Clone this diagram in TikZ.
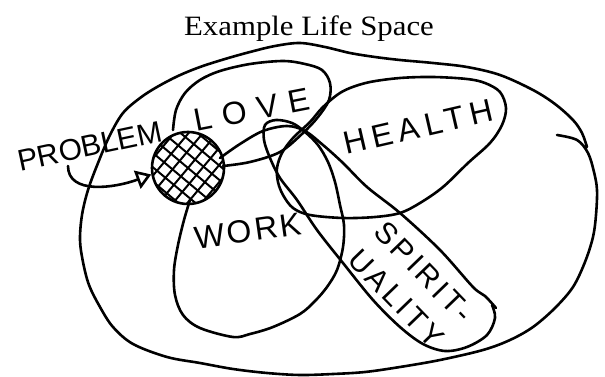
\documentclass[tikz,border=0pt]{standalone}
\usepackage{fontspec}
\setmainfont{Liberation Serif}
\newfontfamily\handfont{Liberation Sans}
\newfontfamily\titlefont[FakeStretch=1.1]{Liberation Serif}
\usetikzlibrary{arrows.meta}

\begin{document}
\begin{tikzpicture}[x=1pt, y=-1pt,
  sketch/.style={line width=2.6pt, line cap=round, line join=round},
  hand/.style={inner sep=0pt, align=center}]
  \useasboundingbox (0,0) rectangle (605,377);
  \node[font=\titlefont\fontsize{28}{30}\selectfont, anchor=base] (title) at (309,36) {Example Life Space};
  % life space boundary
  \draw[sketch] plot[smooth, tension=0.55] coordinates {(557,135) (577,140) (588,153) (594,172) (597,190) (596,215) (593,237) (585,262) (573,287) (555,308) (533,327) (510,340) (483,350) (440,360) (400,367) (365,372) (333,374) (300,375) (267,373) (233,369) (200,363) (167,357) (133,344) (113,327) (100,307) (89,285) (83,262) (80,240) (82,215) (88,190) (98,163) (110,135) (123,113) (140,98) (157,87) (178,76) (200,67) (225,59) (250,52) (275,46) (300,43) (325,47) (350,53) (375,57) (400,60) (433,63) (467,67) (500,75) (533,90) (555,104) (573,120) (582,133) (587,147)};
  % love
  \draw[sketch] plot[smooth, tension=0.55] coordinates {(173,130) (176,110) (185,93) (200,80) (220,71) (250,64) (283,61) (305,64) (322,70) (330,83) (329,100) (318,117) (303,133) (280,152) (250,162) (223,166)};
  % health
  \draw[sketch] plot[smooth cycle, tension=0.55] coordinates {(337,95) (322,108) (310,122) (293,138) (282,153) (277,168) (278,182) (283,195) (293,208) (310,215) (343,218) (375,217) (400,213) (420,203) (443,187) (468,163) (490,143) (502,125) (506,108) (500,92) (485,83) (467,79) (433,77) (400,78) (370,82) (350,88)};
  % work and spirituality
  \draw[sketch] plot[smooth, tension=0.55] coordinates {(190,200) (184,220) (178,245) (174,270) (175,295) (183,315) (200,328) (233,337) (250,334) (273,327) (300,314) (315,301) (327,287) (337,270) (343,247) (344,225) (340,205) (335,182) (328,162) (318,145) (305,132) (292,123) (276,120) (265,125) (264,140) (270,158) (280,178) (297,200) (317,230) (343,263) (373,300) (400,327) (423,344) (445,351) (467,347) (487,335) (495,318) (492,305)};
  \draw[sketch] plot[smooth, tension=0.55] coordinates {(496,308) (485,296) (473,287) (440,250) (400,213) (367,187) (343,163) (323,145) (305,131) (287,126) (263,131) (240,144) (220,158)};
  % problem spot
  \begin{scope}[shift={(188,168)}, rotate=50]
    \clip (0,0) circle (35pt);
    \foreach \d in {-33,-22,...,33} {
      \draw[sketch, line width=2pt] (\d,-40) -- (\d,40);
      \draw[sketch, line width=2pt] (-40,\d) -- (40,\d);
    }
  \end{scope}
  \node[draw, sketch, circle, minimum size=72pt, inner sep=0pt] (spot) at (188,168) {};
  % labels
  \node[hand, rotate=12, font=\handfont\fontsize{30}{32}\selectfont] (problem) at (90,146) {PROBLEM};
  \node[hand, rotate=11, font=\handfont\fontsize{32}{34}\selectfont\addfontfeatures{LetterSpace=33}] (love) at (252,110) {LOVE};
  \node[hand, rotate=13, font=\handfont\fontsize{32}{34}\selectfont\addfontfeatures{LetterSpace=18}] (health) at (418,127) {HEALTH};
  \node[hand, rotate=8, font=\handfont\fontsize{32}{34}\selectfont\addfontfeatures{LetterSpace=8}] (work) at (248,231) {WORK};
  \node[hand, rotate=-46, font=\handfont\fontsize{30}{38}\selectfont\addfontfeatures{LetterSpace=12}] (spirit) at (410,285) {SPIRIT-\\UALITY};
  \coordinate (tail) at (68,166);
  \draw[sketch, -{Triangle[open, length=15pt, width=19pt]}] (tail) .. controls (68,195) and (115,188) .. (spot.190);
\end{tikzpicture}
\end{document}
